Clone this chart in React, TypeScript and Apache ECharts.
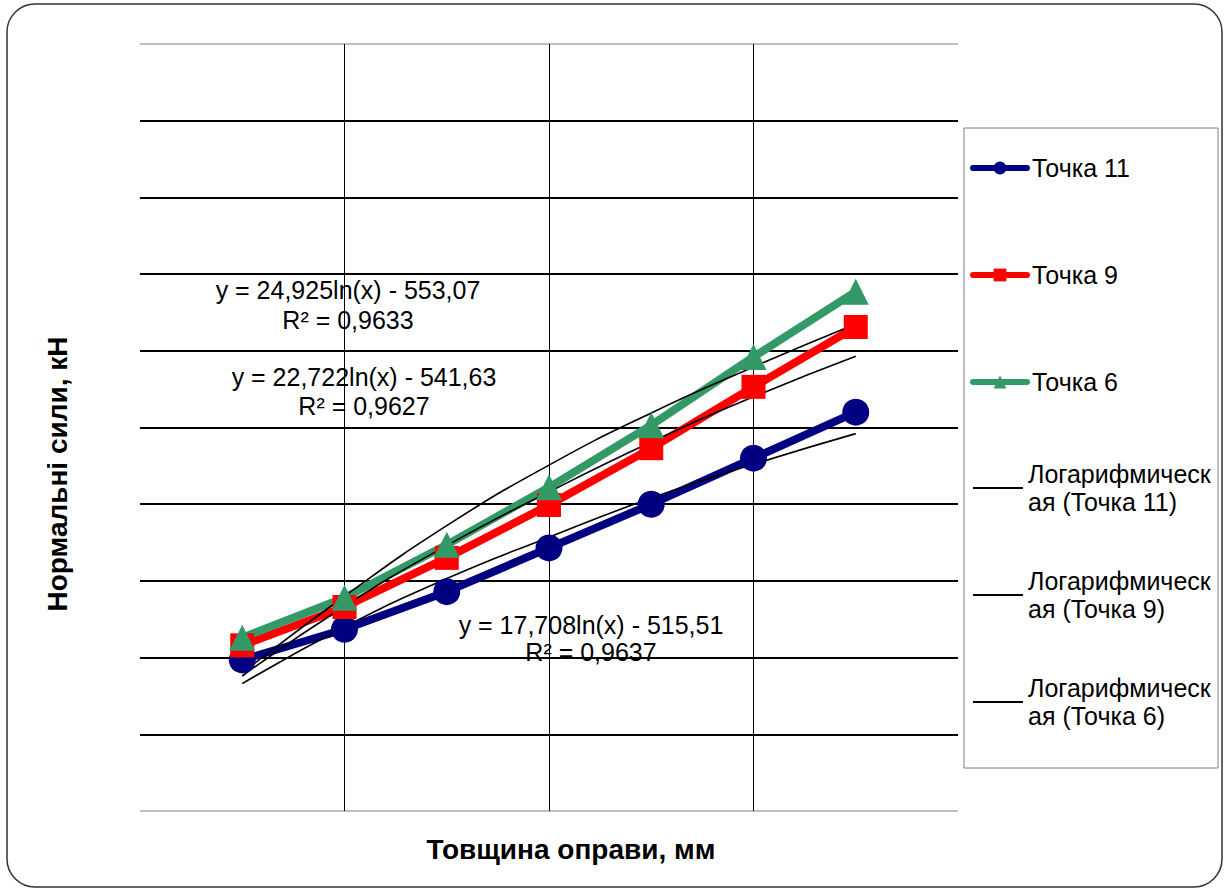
import React, { useEffect, useRef } from "react";
import * as echarts from "echarts";

// x positions of the measured points (axis has no tick labels)
const thickness = [1, 2, 3, 4, 5, 6, 7];
const point11 = [1.97, 2.37, 2.86, 3.43, 4.0, 4.6, 5.2];
const point9 = [2.16, 2.66, 3.3, 3.99, 4.73, 5.53, 6.31];
const point6 = [2.26, 2.78, 3.47, 4.22, 5.03, 5.92, 6.77];
// logarithmic trend lines
const trend11 = [1.66, 2.4, 3.03, 3.57, 4.08, 4.52, 4.92];
const trend9 = [1.76, 2.67, 3.46, 4.16, 4.81, 5.4, 5.93];
const trend6 = [1.8, 2.8, 3.72, 4.51, 5.19, 5.79, 6.35];

const seriesNames = ["Точка 11", "Точка 9", "Точка 6"];
const trendNames = [
  "Логарифмическая (Точка 11)",
  "Логарифмическая (Точка 9)",
  "Логарифмическая (Точка 6)",
];
const equations = [
  { eq: "y = 24,925ln(x) - 553,07", r2: "R² = 0,9633" },
  { eq: "y = 22,722ln(x) - 541,63", r2: "R² = 0,9627" },
  { eq: "y = 17,708ln(x) - 515,51", r2: "R² = 0,9637" },
];
const yTitle = "Нормальні сили, кН";
const xTitle = "Товщина оправи, мм";

const FONT = "'Liberation Sans', Arial, sans-serif";

const pairs = (ys: number[]) => ys.map((y, i) => [thickness[i], y]);

export default function App() {
  const ref = useRef<HTMLDivElement>(null);
  useEffect(() => {
    document.body.style.margin = "0";
    if (!ref.current) return;
    const chart = echarts.init(ref.current, undefined, { renderer: "svg" });
    const gridColors = ["#c0c0c0", "#000", "#000", "#000", "#000", "#000", "#000", "#000", "#000", "#000", "#c0c0c0"];
    const mainColors = ["#000080", "#ff0000", "#339966"];
    const mainSymbols = ["circle", "rect", "triangle"];
    const mainData = [point11, point9, point6];
    const trendData = [trend11, trend9, trend6];
    const eqPos = [
      { x: 348, y: 290, ry: 320 },
      { x: 364, y: 377, ry: 406 },
      { x: 591, y: 625, ry: 652 },
    ];
    const textEls: any[] = [];
    equations.forEach((e, i) => {
      textEls.push({
        type: "text",
        x: eqPos[i].x,
        y: eqPos[i].y,
        z: 100,
        style: { text: e.eq, fontSize: 25, fontFamily: FONT, fill: "#000", align: "center", verticalAlign: "middle" },
      });
      textEls.push({
        type: "text",
        x: eqPos[i].x,
        y: eqPos[i].ry,
        z: 100,
        style: { text: e.r2, fontSize: 25, fontFamily: FONT, fill: "#000", align: "center", verticalAlign: "middle" },
      });
    });
    chart.setOption({
      animation: false,
      backgroundColor: "#fff",
      grid: { left: 140, right: 272, top: 44, bottom: 79, containLabel: false },
      xAxis: {
        type: "value",
        min: 0,
        max: 8,
        interval: 2,
        axisLine: { show: false },
        axisTick: { show: false },
        axisLabel: { show: false },
        splitLine: {
          show: true,
          lineStyle: { color: ["rgba(0,0,0,0)", "#000", "#000", "#000", "rgba(0,0,0,0)"], width: 1 },
        },
      },
      yAxis: {
        type: "value",
        min: 0,
        max: 10,
        interval: 1,
        axisLine: { show: false },
        axisTick: { show: false },
        axisLabel: { show: false },
        splitLine: { show: true, lineStyle: { color: gridColors, width: 2 } },
      },
      legend: [
        {
          data: seriesNames,
          orient: "vertical",
          left: 970,
          top: 154,
          padding: 0,
          itemGap: 79,
          itemWidth: 54,
          itemHeight: 16,
          lineStyle: { width: 6, cap: "round" },
          textStyle: { fontSize: 25, fontFamily: FONT, color: "#000", lineHeight: 28 },
        },
        {
          data: trendNames.map((n) => ({ name: n, icon: "rect" })),
          orient: "vertical",
          left: 973,
          top: 446,
          padding: 0,
          itemGap: 23,
          itemWidth: 50,
          itemHeight: 2,
          itemStyle: { color: "#000" },
          formatter: (n: string) => n.replace("Логарифмическ", "Логарифмическ\n"),
          textStyle: { fontSize: 25, fontFamily: FONT, color: "#000", lineHeight: 28, padding: [28, 0, 0, 0] },
        },
      ],
      graphic: [
        {
          type: "rect",
          shape: { x: 7, y: 4, width: 1215, height: 883, r: 28 },
          style: { fill: "none", stroke: "#333", lineWidth: 1.5 },
          z: 0,
          silent: true,
        },
        {
          type: "rect",
          shape: { x: 964, y: 128, width: 254, height: 640 },
          style: { fill: "none", stroke: "#808080", lineWidth: 1 },
          silent: true,
        },
        {
          type: "text",
          x: 57,
          y: 474,
          rotation: Math.PI / 2,
          style: { text: yTitle, fontSize: 28, fontWeight: "bold", fontFamily: FONT, fill: "#000", align: "center", verticalAlign: "middle" },
        },
        {
          type: "text",
          x: 571,
          y: 849,
          style: { text: xTitle, fontSize: 28, fontWeight: "bold", fontFamily: FONT, fill: "#000", align: "center", verticalAlign: "middle" },
        },
        ...textEls,
      ],
      series: [
        ...seriesNames.map((name, i) => ({
          name,
          type: "line",
          data: pairs(mainData[i]),
          symbol: mainSymbols[i],
          symbolSize: i === 0 ? 27 : i === 1 ? 24 : 26,
          lineStyle: { color: mainColors[i], width: 8 },
          itemStyle: { color: mainColors[i] },
          emphasis: { disabled: true },
        })),
        ...trendNames.map((name, i) => ({
          name,
          type: "line",
          data: pairs(trendData[i]),
          smooth: true,
          symbol: "none",
          lineStyle: { color: "#000", width: 1.6 },
          itemStyle: { color: "#000" },
          emphasis: { disabled: true },
        })),
      ],
    });
    return () => chart.dispose();
  }, []);
  return <div ref={ref} style={{ width: 1230, height: 890 }} />;
}
